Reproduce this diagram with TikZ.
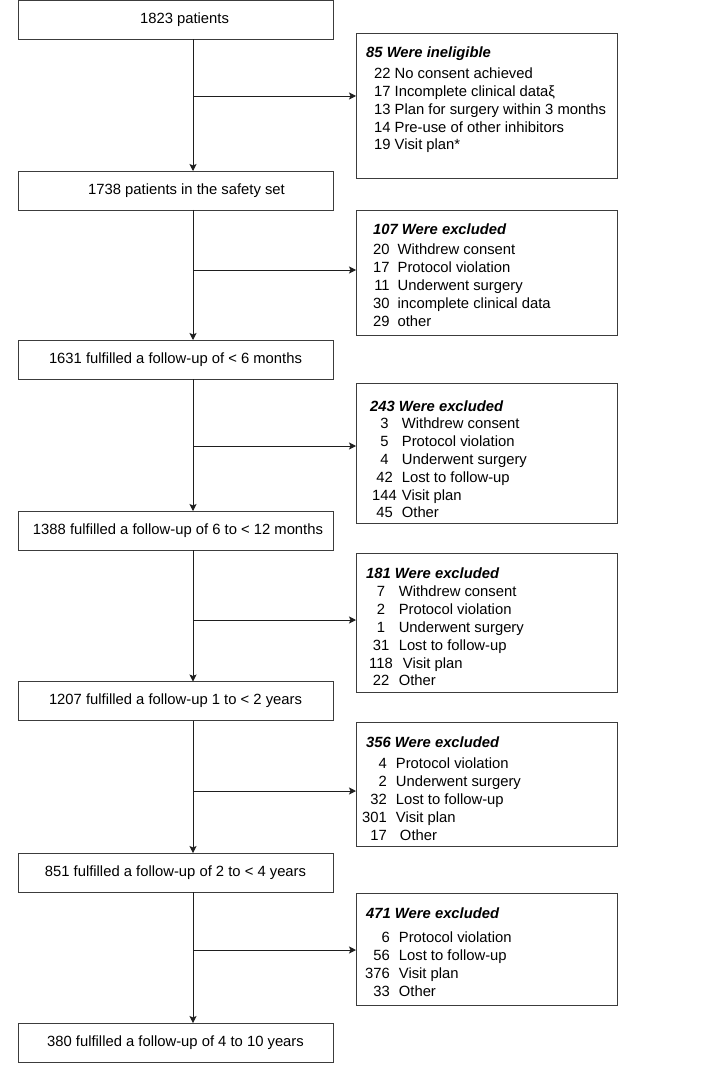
\documentclass[tikz,border=0pt]{standalone}
\usepackage{fontspec}
\setmainfont{Liberation Sans}
\usetikzlibrary{arrows.meta}
\definecolor{boxline}{RGB}{60, 60, 60}
\definecolor{flowline}{RGB}{30, 30, 30}

\begin{document}
\begin{tikzpicture}[x=1pt, y=-1pt,
    stage/.style={draw=boxline, line width=0.9pt, minimum width=315pt,
                  minimum height=39pt, inner sep=0pt, outer sep=0pt,
                  font=\fontsize{14.8}{17.8}\selectfont},
    outbox/.style={draw=boxline, line width=0.9pt, minimum width=261pt,
                   inner sep=0pt, outer sep=0pt},
    outtext/.style={anchor=base west, inner sep=0pt,
                    font=\fontsize{14.8}{17.8}\selectfont},
    flow/.style={draw=flowline, line width=0.9pt,
                 -{Stealth[length=7pt, width=7pt, inset=1.5pt]}}]
        \useasboundingbox (0, 0) rectangle (714, 1067);
        % main stages
        \node[stage] (total) at (175.5, 20) {\hspace*{18pt}1823 patients};
        \node[stage] (safety) at (175.5, 190.5)
            {\hspace*{22pt}1738 patients in the safety set};
        \node[stage] (fu6m) at (175.5, 359.5)
            {1631 fulfilled a follow-up of < 6 months};
        \node[stage] (fu12m) at (175.5, 530.5)
            {\hspace*{5pt}1388 fulfilled a follow-up of 6 to < 12 months};
        \node[stage] (fu2y) at (175.5, 701)
            {1207 fulfilled a follow-up 1 to < 2 years};
        \node[stage] (fu4y) at (175.5, 872.5)
            {851 fulfilled a follow-up of 2 to < 4 years};
        \node[stage] (fu10y) at (175.5, 1042.5)
            {380 fulfilled a follow-up of 4 to 10 years};
        % side boxes
        \node[outbox, minimum height=145pt] (inelig) at (486.5, 105.5) {};
        \node[outtext] (inelig-list) at (366, 58)
            {\begin{tabular}[t]{@{\hspace{8pt}}r@{\hspace{4pt}}l@{}}
             \multicolumn{2}{@{}l@{}}{\bfseries\itshape 85 Were ineligible}\\[3pt]
             22 & No consent achieved\\
             17 & Incomplete clinical dataξ\\
             13 & Plan for surgery within 3 months\\
             14 & Pre-use of other inhibitors\\
             19 & Visit plan*
             \end{tabular}};
        \node[outbox, minimum height=125pt] (excl1) at (486.5, 272.5) {};
        \node[outtext] (excl1-list) at (373, 235)
            {\begin{tabular}[t]{@{}r@{\hspace{8pt}}l@{}}
             \multicolumn{2}{@{}l@{}}{\bfseries\itshape 107 Were excluded}\\[2pt]
             20 & Withdrew consent\\
             17 & Protocol violation\\
             11 & Underwent surgery\\
             30 & incomplete clinical data\\
             29 & other
             \end{tabular}};
        \node[outbox, minimum height=140pt] (excl2) at (486.5, 453) {};
        \node[outtext] (excl2-list) at (370, 411)
            {\begin{tabular}[t]{@{\hspace{2pt}}c@{\hspace{5pt}}l@{}}
             \multicolumn{2}{@{}l@{}}{\bfseries\itshape 243 Were excluded}\\
             3 & Withdrew consent\\
             5 & Protocol violation\\
             4 & Underwent surgery\\
             42 & Lost to follow-up\\
             144 & Visit plan\\
             45 & Other
             \end{tabular}};
        \node[outbox, minimum height=139pt] (excl3) at (486.5, 622.5) {};
        \node[outtext] (excl3-list) at (366, 578)
            {\begin{tabular}[t]{@{\hspace{3pt}}c@{\hspace{6pt}}l@{}}
             \multicolumn{2}{@{}l@{}}{\bfseries\itshape 181 Were excluded}\\[1pt]
             7 & Withdrew consent\\
             2 & Protocol violation\\
             1 & Underwent surgery\\
             31 & Lost to follow-up\\
             118 & \ Visit plan\\
             22 & Other
             \end{tabular}};
        \node[outbox, minimum height=124pt] (excl4) at (486.5, 784) {};
        \node[outtext] (excl4-list) at (362, 747)
            {\begin{tabular}[t]{@{}r@{\hspace{9pt}}l@{}}
             \multicolumn{2}{@{\hspace{4pt}}l@{}}{\bfseries\itshape 356 Were excluded}\\[4pt]
             4 & Protocol violation\\
             2 & Underwent surgery\\
             32 & Lost to follow-up\\
             301 & Visit plan\\
             17 & \ Other
             \end{tabular}};
        \node[outbox, minimum height=112pt] (excl5) at (486.5, 949) {};
        \node[outtext] (excl5-list) at (365, 918)
            {\begin{tabular}[t]{@{}r@{\hspace{9pt}}l@{}}
             \multicolumn{2}{@{\hspace{1pt}}l@{}}{\bfseries\itshape 471 Were excluded}\\[7pt]
             6 & Protocol violation\\
             56 & Lost to follow-up\\
             376 & Visit plan\\
             33 & Other
             \end{tabular}};
        % branch points on the main line
        \coordinate (b1) at (193, 96);
        \coordinate (b2) at (193, 270);
        \coordinate (b3) at (193, 446);
        \coordinate (b4) at (193, 620);
        \coordinate (b5) at (193, 791);
        \coordinate (b6) at (193, 950);
        \draw[flow] (total.south -| b1) -- (safety.north -| b1);
        \draw[flow] (b1) -- (b1 -| inelig.west);
        \draw[flow] (safety.south -| b2) -- (fu6m.north -| b2);
        \draw[flow] (b2) -- (b2 -| excl1.west);
        \draw[flow] (fu6m.south -| b3) -- (fu12m.north -| b3);
        \draw[flow] (b3) -- (b3 -| excl2.west);
        \draw[flow] (fu12m.south -| b4) -- (fu2y.north -| b4);
        \draw[flow] (b4) -- (b4 -| excl3.west);
        \draw[flow] (fu2y.south -| b5) -- (fu4y.north -| b5);
        \draw[flow] (b5) -- (b5 -| excl4.west);
        \draw[flow] (fu4y.south -| b6) -- (fu10y.north -| b6);
        \draw[flow] (b6) -- (b6 -| excl5.west);
\end{tikzpicture}
\end{document}
